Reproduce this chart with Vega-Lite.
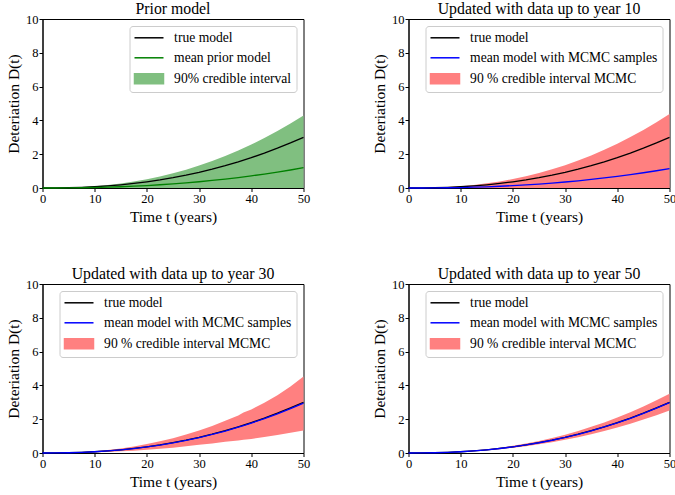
{
"$schema": "https://vega.github.io/schema/vega-lite/v6.json",
"padding": {"left": 5.5, "top": 0, "right": 0, "bottom": 0},
"datasets": {
"d": [
{"p":1,"t":0,"tr":0,"mu":0,"lo":0,"hi":0},
{"p":1,"t":2.5,"tr":0.003,"mu":0.001,"lo":0,"hi":0.004},
{"p":1,"t":5,"tr":0.015,"mu":0.006,"lo":0,"hi":0.021},
{"p":1,"t":7.5,"tr":0.038,"mu":0.015,"lo":0,"hi":0.054},
{"p":1,"t":10,"tr":0.074,"mu":0.030,"lo":0,"hi":0.106},
{"p":1,"t":12.5,"tr":0.124,"mu":0.050,"lo":0,"hi":0.177},
{"p":1,"t":15,"tr":0.188,"mu":0.075,"lo":0,"hi":0.269},
{"p":1,"t":17.5,"tr":0.268,"mu":0.107,"lo":0,"hi":0.383},
{"p":1,"t":20,"tr":0.365,"mu":0.146,"lo":0,"hi":0.522},
{"p":1,"t":22.5,"tr":0.478,"mu":0.191,"lo":0,"hi":0.684},
{"p":1,"t":25,"tr":0.609,"mu":0.244,"lo":0,"hi":0.871},
{"p":1,"t":27.5,"tr":0.758,"mu":0.303,"lo":0,"hi":1.084},
{"p":1,"t":30,"tr":0.927,"mu":0.371,"lo":0,"hi":1.326},
{"p":1,"t":32.5,"tr":1.114,"mu":0.446,"lo":0,"hi":1.593},
{"p":1,"t":35,"tr":1.321,"mu":0.528,"lo":0,"hi":1.889},
{"p":1,"t":37.5,"tr":1.548,"mu":0.619,"lo":0,"hi":2.214},
{"p":1,"t":40,"tr":1.796,"mu":0.718,"lo":0,"hi":2.568},
{"p":1,"t":42.5,"tr":2.064,"mu":0.826,"lo":0,"hi":2.952},
{"p":1,"t":45,"tr":2.354,"mu":0.942,"lo":0,"hi":3.366},
{"p":1,"t":47.5,"tr":2.666,"mu":1.066,"lo":0,"hi":3.812},
{"p":1,"t":50,"tr":3.0,"mu":1.2,"lo":0,"hi":4.29},
{"p":2,"t":0,"tr":0,"mu":0,"lo":0,"hi":0},
{"p":2,"t":2.5,"tr":0.003,"mu":0.001,"lo":0,"hi":0.004},
{"p":2,"t":5,"tr":0.015,"mu":0.006,"lo":0,"hi":0.022},
{"p":2,"t":7.5,"tr":0.038,"mu":0.015,"lo":0,"hi":0.055},
{"p":2,"t":10,"tr":0.074,"mu":0.028,"lo":0,"hi":0.108},
{"p":2,"t":12.5,"tr":0.124,"mu":0.047,"lo":0,"hi":0.181},
{"p":2,"t":15,"tr":0.188,"mu":0.072,"lo":0,"hi":0.274},
{"p":2,"t":17.5,"tr":0.268,"mu":0.103,"lo":0,"hi":0.391},
{"p":2,"t":20,"tr":0.365,"mu":0.140,"lo":0,"hi":0.533},
{"p":2,"t":22.5,"tr":0.478,"mu":0.183,"lo":0,"hi":0.698},
{"p":2,"t":25,"tr":0.609,"mu":0.233,"lo":0,"hi":0.889},
{"p":2,"t":27.5,"tr":0.758,"mu":0.290,"lo":0,"hi":1.107},
{"p":2,"t":30,"tr":0.927,"mu":0.355,"lo":0,"hi":1.353},
{"p":2,"t":32.5,"tr":1.114,"mu":0.427,"lo":0,"hi":1.626},
{"p":2,"t":35,"tr":1.321,"mu":0.506,"lo":0,"hi":1.929},
{"p":2,"t":37.5,"tr":1.548,"mu":0.593,"lo":0,"hi":2.260},
{"p":2,"t":40,"tr":1.796,"mu":0.688,"lo":0,"hi":2.622},
{"p":2,"t":42.5,"tr":2.064,"mu":0.791,"lo":0,"hi":3.013},
{"p":2,"t":45,"tr":2.354,"mu":0.902,"lo":0,"hi":3.437},
{"p":2,"t":47.5,"tr":2.666,"mu":1.021,"lo":0,"hi":3.892},
{"p":2,"t":50,"tr":3.0,"mu":1.15,"lo":0,"hi":4.38},
{"p":3,"t":0,"tr":0,"mu":0,"lo":0,"hi":0},
{"p":3,"t":2.5,"tr":0.003,"mu":0.003,"lo":0.002,"hi":0.004},
{"p":3,"t":5,"tr":0.015,"mu":0.015,"lo":0.008,"hi":0.022},
{"p":3,"t":7.5,"tr":0.038,"mu":0.037,"lo":0.020,"hi":0.055},
{"p":3,"t":10,"tr":0.074,"mu":0.073,"lo":0.038,"hi":0.107},
{"p":3,"t":12.5,"tr":0.124,"mu":0.122,"lo":0.064,"hi":0.179},
{"p":3,"t":15,"tr":0.188,"mu":0.185,"lo":0.098,"hi":0.271},
{"p":3,"t":17.5,"tr":0.268,"mu":0.264,"lo":0.139,"hi":0.386},
{"p":3,"t":20,"tr":0.365,"mu":0.360,"lo":0.190,"hi":0.526},
{"p":3,"t":22.5,"tr":0.478,"mu":0.471,"lo":0.249,"hi":0.688},
{"p":3,"t":25,"tr":0.609,"mu":0.600,"lo":0.317,"hi":0.877},
{"p":3,"t":27.5,"tr":0.758,"mu":0.747,"lo":0.394,"hi":1.091},
{"p":3,"t":30,"tr":0.927,"mu":0.913,"lo":0.482,"hi":1.335},
{"p":3,"t":32.5,"tr":1.114,"mu":1.097,"lo":0.568,"hi":1.604},
{"p":3,"t":35,"tr":1.321,"mu":1.301,"lo":0.660,"hi":1.902},
{"p":3,"t":37.5,"tr":1.548,"mu":1.525,"lo":0.743,"hi":2.22},
{"p":3,"t":38.5,"tr":1.646,"mu":1.621,"lo":0.78,"hi":2.4},
{"p":3,"t":40,"tr":1.796,"mu":1.769,"lo":0.835,"hi":2.58},
{"p":3,"t":42.5,"tr":2.064,"mu":2.033,"lo":0.95,"hi":2.97},
{"p":3,"t":45,"tr":2.354,"mu":2.319,"lo":1.071,"hi":3.42},
{"p":3,"t":47.5,"tr":2.666,"mu":2.626,"lo":1.2,"hi":3.93},
{"p":3,"t":50,"tr":3.0,"mu":2.955,"lo":1.33,"hi":4.52},
{"p":4,"t":0,"tr":0,"mu":0,"lo":0,"hi":0},
{"p":4,"t":2.5,"tr":0.003,"mu":0.003,"lo":0.003,"hi":0.004},
{"p":4,"t":5,"tr":0.015,"mu":0.015,"lo":0.013,"hi":0.018},
{"p":4,"t":7.5,"tr":0.038,"mu":0.038,"lo":0.032,"hi":0.044},
{"p":4,"t":10,"tr":0.074,"mu":0.074,"lo":0.062,"hi":0.087},
{"p":4,"t":12.5,"tr":0.124,"mu":0.123,"lo":0.104,"hi":0.145},
{"p":4,"t":15,"tr":0.188,"mu":0.187,"lo":0.158,"hi":0.220},
{"p":4,"t":17.5,"tr":0.268,"mu":0.267,"lo":0.225,"hi":0.314},
{"p":4,"t":20,"tr":0.365,"mu":0.363,"lo":0.307,"hi":0.427},
{"p":4,"t":22.5,"tr":0.478,"mu":0.476,"lo":0.402,"hi":0.559},
{"p":4,"t":25,"tr":0.609,"mu":0.606,"lo":0.512,"hi":0.713},
{"p":4,"t":27.5,"tr":0.758,"mu":0.754,"lo":0.637,"hi":0.887},
{"p":4,"t":30,"tr":0.927,"mu":0.922,"lo":0.779,"hi":1.085},
{"p":4,"t":32.5,"tr":1.114,"mu":1.108,"lo":0.936,"hi":1.303},
{"p":4,"t":35,"tr":1.321,"mu":1.314,"lo":1.110,"hi":1.546},
{"p":4,"t":37.5,"tr":1.548,"mu":1.540,"lo":1.300,"hi":1.811},
{"p":4,"t":40,"tr":1.796,"mu":1.787,"lo":1.509,"hi":2.101},
{"p":4,"t":42.5,"tr":2.064,"mu":2.054,"lo":1.734,"hi":2.415},
{"p":4,"t":45,"tr":2.354,"mu":2.342,"lo":1.977,"hi":2.754},
{"p":4,"t":47.5,"tr":2.666,"mu":2.653,"lo":2.239,"hi":3.119},
{"p":4,"t":50,"tr":3.0,"mu":2.985,"lo":2.52,"hi":3.51}
]
},
"data": {"name": "d"},
"columns": 2,
"spacing": {"row": 40, "column": 61},
"resolve": {"scale": {"color": "independent"}, "legend": {"color": "independent"}},
"concat": [
{
"title": "Prior model",
"width": 261, "height": 169,
"transform": [{"filter": "datum.p == 1"}],
"encoding": {
  "x": {"field": "t", "type": "quantitative", "scale": {"domain": [0, 50], "nice": false}, "axis": {"title": "Time t (years)", "values": [0,10,20,30,40,50], "labelOverlap": false, "labelFlush": false}}
},
"layer": [
{"mark": {"type": "area"}, "encoding": {
  "y": {"field": "lo", "type": "quantitative", "scale": {"domain": [0, 10]}, "axis": {"title": "Deteriation D(t)", "values": [0,2,4,6,8,10], "labelOverlap": false, "labelFlush": false}},
  "y2": {"field": "hi"},
  "color": {"datum": "90% credible interval", "type": "nominal",
    "scale": {"domain": ["true model", "mean prior model", "90% credible interval"], "range": ["black", "green", "#80bf80"]},
    "legend": {"title": null, "encode": {"symbols": {"update": {
      "x": {"value": 14.5},
      "shape": [{"test": "datum.value === '90% credible interval'", "value": "M-2.9,-1H2.9V1H-2.9Z"}, {"value": "M-2.9,0H2.9"}],
      "fill": [{"test": "datum.value === '90% credible interval'", "value": "#80bf80"}, {"value": "transparent"}],
      "stroke": [{"test": "datum.value === 'true model'", "value": "black"}, {"test": "datum.value === 'mean prior model'", "value": "green"}, {"value": "transparent"}],
      "strokeWidth": {"value": 1.5}, "opacity": {"value": 1}}}}}}
}},
{"mark": {"type": "line", "strokeWidth": 1.3}, "encoding": {"y": {"field": "tr", "type": "quantitative", "axis": {"title": "Deteriation D(t)", "values": [0,2,4,6,8,10], "labelOverlap": false, "labelFlush": false}}, "color": {"datum": "true model", "type": "nominal"}}},
{"mark": {"type": "line", "strokeWidth": 1.3}, "encoding": {"y": {"field": "mu", "type": "quantitative", "axis": {"title": "Deteriation D(t)", "values": [0,2,4,6,8,10], "labelOverlap": false, "labelFlush": false}}, "color": {"datum": "mean prior model", "type": "nominal"}}}
]
},
{
"title": "Updated with data up to year 10",
"width": 261, "height": 169,
"transform": [{"filter": "datum.p == 2"}],
"encoding": {
  "x": {"field": "t", "type": "quantitative", "scale": {"domain": [0, 50], "nice": false}, "axis": {"title": "Time t (years)", "values": [0,10,20,30,40,50], "labelOverlap": false, "labelFlush": false}}
},
"layer": [
{"mark": {"type": "area"}, "encoding": {
  "y": {"field": "lo", "type": "quantitative", "scale": {"domain": [0, 10]}, "axis": {"title": "Deteriation D(t)", "values": [0,2,4,6,8,10], "labelOverlap": false, "labelFlush": false}},
  "y2": {"field": "hi"},
  "color": {"datum": "90 % credible interval MCMC", "type": "nominal",
    "scale": {"domain": ["true model", "mean model with MCMC samples", "90 % credible interval MCMC"], "range": ["black", "blue", "#ff8080"]},
    "legend": {"title": null, "encode": {"symbols": {"update": {
      "x": {"value": 14.5},
      "shape": [{"test": "datum.value === '90 % credible interval MCMC'", "value": "M-2.9,-1H2.9V1H-2.9Z"}, {"value": "M-2.9,0H2.9"}],
      "fill": [{"test": "datum.value === '90 % credible interval MCMC'", "value": "#ff8080"}, {"value": "transparent"}],
      "stroke": [{"test": "datum.value === 'true model'", "value": "black"}, {"test": "datum.value === 'mean model with MCMC samples'", "value": "blue"}, {"value": "transparent"}],
      "strokeWidth": {"value": 1.5}, "opacity": {"value": 1}}}}}}
}},
{"mark": {"type": "line", "strokeWidth": 1.3}, "encoding": {"y": {"field": "tr", "type": "quantitative", "axis": {"title": "Deteriation D(t)", "values": [0,2,4,6,8,10], "labelOverlap": false, "labelFlush": false}}, "color": {"datum": "true model", "type": "nominal"}}},
{"mark": {"type": "line", "strokeWidth": 1.3}, "encoding": {"y": {"field": "mu", "type": "quantitative", "axis": {"title": "Deteriation D(t)", "values": [0,2,4,6,8,10], "labelOverlap": false, "labelFlush": false}}, "color": {"datum": "mean model with MCMC samples", "type": "nominal"}}}
]
},
{
"title": "Updated with data up to year 30",
"width": 261, "height": 169,
"transform": [{"filter": "datum.p == 3"}],
"encoding": {
  "x": {"field": "t", "type": "quantitative", "scale": {"domain": [0, 50], "nice": false}, "axis": {"title": "Time t (years)", "values": [0,10,20,30,40,50], "labelOverlap": false, "labelFlush": false}}
},
"layer": [
{"mark": {"type": "area"}, "encoding": {
  "y": {"field": "lo", "type": "quantitative", "scale": {"domain": [0, 10]}, "axis": {"title": "Deteriation D(t)", "values": [0,2,4,6,8,10], "labelOverlap": false, "labelFlush": false}},
  "y2": {"field": "hi"},
  "color": {"datum": "90 % credible interval MCMC", "type": "nominal",
    "scale": {"domain": ["true model", "mean model with MCMC samples", "90 % credible interval MCMC"], "range": ["black", "blue", "#ff8080"]},
    "legend": {"title": null, "encode": {"symbols": {"update": {
      "x": {"value": 14.5},
      "shape": [{"test": "datum.value === '90 % credible interval MCMC'", "value": "M-2.9,-1H2.9V1H-2.9Z"}, {"value": "M-2.9,0H2.9"}],
      "fill": [{"test": "datum.value === '90 % credible interval MCMC'", "value": "#ff8080"}, {"value": "transparent"}],
      "stroke": [{"test": "datum.value === 'true model'", "value": "black"}, {"test": "datum.value === 'mean model with MCMC samples'", "value": "blue"}, {"value": "transparent"}],
      "strokeWidth": {"value": 1.5}, "opacity": {"value": 1}}}}}}
}},
{"mark": {"type": "line", "strokeWidth": 1.3}, "encoding": {"y": {"field": "tr", "type": "quantitative", "axis": {"title": "Deteriation D(t)", "values": [0,2,4,6,8,10], "labelOverlap": false, "labelFlush": false}}, "color": {"datum": "true model", "type": "nominal"}}},
{"mark": {"type": "line", "strokeWidth": 1.3}, "encoding": {"y": {"field": "mu", "type": "quantitative", "axis": {"title": "Deteriation D(t)", "values": [0,2,4,6,8,10], "labelOverlap": false, "labelFlush": false}}, "color": {"datum": "mean model with MCMC samples", "type": "nominal"}}}
]
},
{
"title": "Updated with data up to year 50",
"width": 261, "height": 169,
"transform": [{"filter": "datum.p == 4"}],
"encoding": {
  "x": {"field": "t", "type": "quantitative", "scale": {"domain": [0, 50], "nice": false}, "axis": {"title": "Time t (years)", "values": [0,10,20,30,40,50], "labelOverlap": false, "labelFlush": false}}
},
"layer": [
{"mark": {"type": "area"}, "encoding": {
  "y": {"field": "lo", "type": "quantitative", "scale": {"domain": [0, 10]}, "axis": {"title": "Deteriation D(t)", "values": [0,2,4,6,8,10], "labelOverlap": false, "labelFlush": false}},
  "y2": {"field": "hi"},
  "color": {"datum": "90 % credible interval MCMC", "type": "nominal",
    "scale": {"domain": ["true model", "mean model with MCMC samples", "90 % credible interval MCMC"], "range": ["black", "blue", "#ff8080"]},
    "legend": {"title": null, "encode": {"symbols": {"update": {
      "x": {"value": 14.5},
      "shape": [{"test": "datum.value === '90 % credible interval MCMC'", "value": "M-2.9,-1H2.9V1H-2.9Z"}, {"value": "M-2.9,0H2.9"}],
      "fill": [{"test": "datum.value === '90 % credible interval MCMC'", "value": "#ff8080"}, {"value": "transparent"}],
      "stroke": [{"test": "datum.value === 'true model'", "value": "black"}, {"test": "datum.value === 'mean model with MCMC samples'", "value": "blue"}, {"value": "transparent"}],
      "strokeWidth": {"value": 1.5}, "opacity": {"value": 1}}}}}}
}},
{"mark": {"type": "line", "strokeWidth": 1.3}, "encoding": {"y": {"field": "tr", "type": "quantitative", "axis": {"title": "Deteriation D(t)", "values": [0,2,4,6,8,10], "labelOverlap": false, "labelFlush": false}}, "color": {"datum": "true model", "type": "nominal"}}},
{"mark": {"type": "line", "strokeWidth": 1.3}, "encoding": {"y": {"field": "mu", "type": "quantitative", "axis": {"title": "Deteriation D(t)", "values": [0,2,4,6,8,10], "labelOverlap": false, "labelFlush": false}}, "color": {"datum": "mean model with MCMC samples", "type": "nominal"}}}
]
}
],
"config": {
  "font": "Liberation Serif",
  "view": {"stroke": "black", "strokeWidth": 1},
  "axis": {"domainColor": "black", "tickColor": "black", "labelColor": "black", "titleColor": "black", "labelFontSize": 12.5, "titleFontSize": 15.5, "titleFontWeight": "normal", "grid": false, "tickSize": 3.5, "labelPadding": 1, "titlePadding": 4, "labelFont": "Liberation Serif", "titleFont": "Liberation Serif"},
  "title": {"fontSize": 15.8, "fontWeight": "normal", "offset": -5, "color": "black", "font": "Liberation Serif"},
  "legend": {"orient": "top-right", "offset": 7, "padding": 5, "strokeColor": "#cccccc", "fillColor": "white", "cornerRadius": 3, "labelFontSize": 13.6, "labelFont": "Liberation Serif", "labelColor": "black", "labelLimit": 400, "symbolSize": 100, "symbolStrokeWidth": 1.5, "rowPadding": 5, "labelOffset": 26}
}
}
